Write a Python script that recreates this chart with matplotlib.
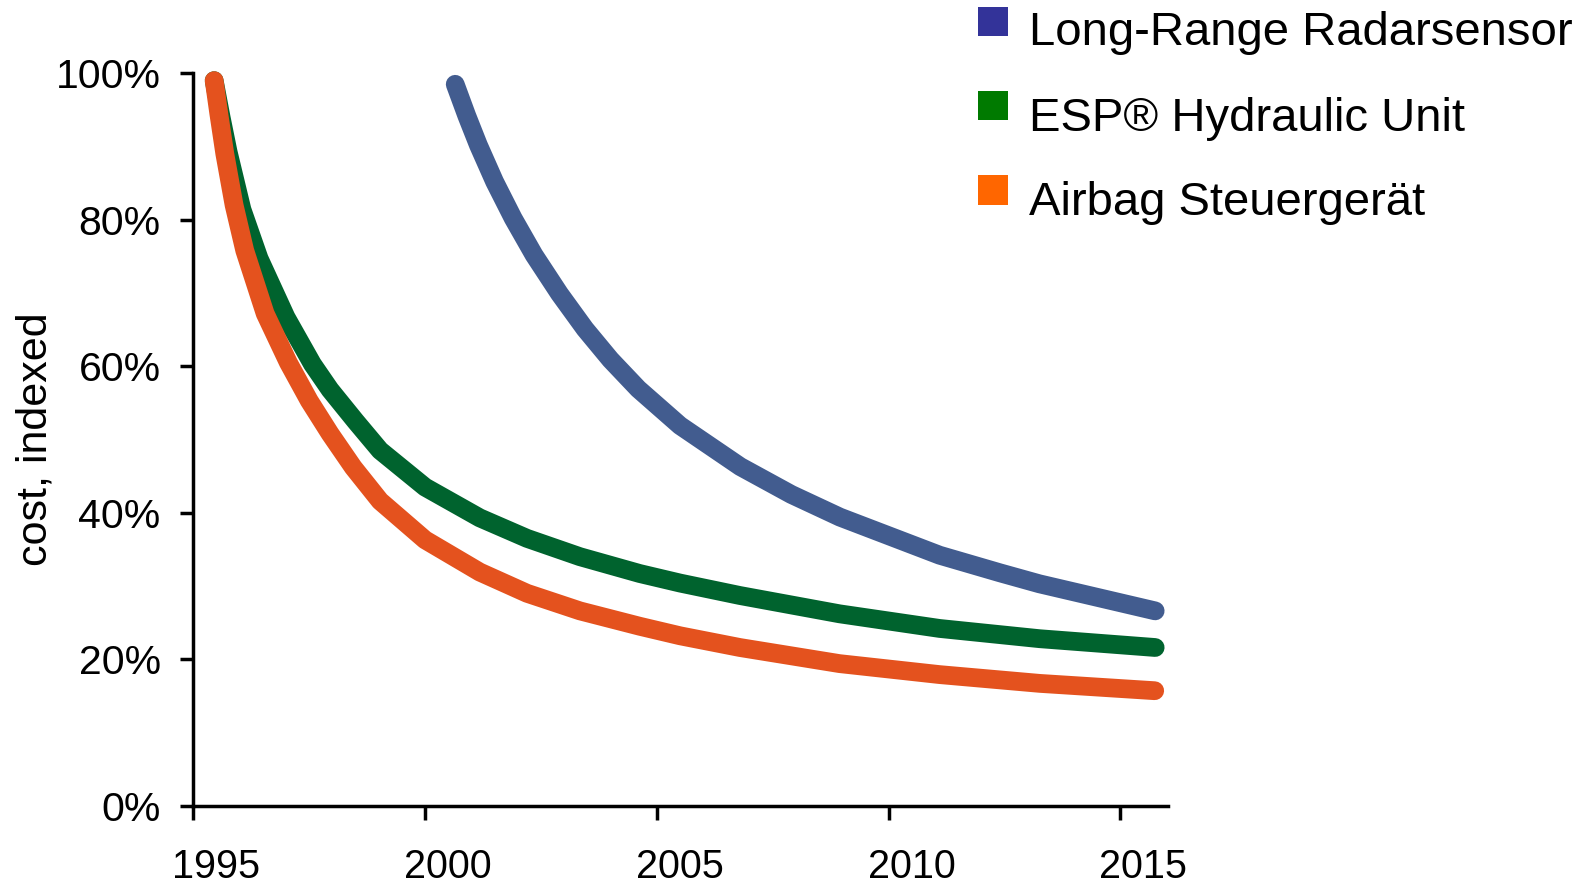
import matplotlib
matplotlib.use("Agg")
import matplotlib.pyplot as plt
import matplotlib.transforms as mtransforms
from matplotlib.patches import Rectangle
from matplotlib.ticker import FuncFormatter

# series (year, cost index in %)
radar_years = [2000.65, 2000.9, 2001.15, 2001.5, 2001.9, 2002.35, 2002.9, 2003.45,
               2004.0, 2004.6, 2005.5, 2006.8, 2007.9, 2008.95, 2011.1, 2012.4,
               2013.25, 2015.75]
radar_vals = [98.5, 94.2, 90.2, 85.2, 80.2, 75.2, 69.9, 65.1,
              60.9, 56.9, 51.9, 46.3, 42.5, 39.4, 34.2, 31.8,
              30.3, 26.6]

esp_years = [1995.45, 1995.6, 1995.75, 1996.05, 1996.42, 1997.0, 1997.57, 1997.95,
             1998.5, 1999.03, 2000.0, 2001.18, 2002.2, 2003.34, 2004.63, 2005.5,
             2006.79, 2008.94, 2011.1, 2013.26, 2015.75]
esp_vals = [99.0, 94.0, 89.3, 81.4, 74.7, 66.7, 60.3, 56.8,
            52.5, 48.5, 43.5, 39.3, 36.5, 34.0, 31.7, 30.4,
            28.7, 26.2, 24.2, 22.8, 21.6]

airbag_years = [1995.45, 1995.55, 1995.68, 1995.88, 1996.11, 1996.55, 1997.05, 1997.5,
                1997.95, 1998.45, 1999.03, 2000.0, 2001.18, 2002.2, 2003.34, 2004.63,
                2005.5, 2006.79, 2008.94, 2011.1, 2013.26, 2015.74]
airbag_vals = [99.0, 94.5, 89.0, 82.0, 75.8, 67.2, 60.5, 55.3,
               50.8, 46.2, 41.6, 36.3, 31.9, 29.0, 26.6, 24.5,
               23.2, 21.6, 19.4, 17.9, 16.7, 15.7]

labels = ["Long-Range Radarsensor", "ESP\u00ae Hydraulic Unit", "Airbag Steuerger\u00e4t"]
line_colors = ["#425C8F", "#00632E", "#E4521E"]
legend_colors = ["#333399", "#007A00", "#FF6600"]
x_ticks = [1995, 2000, 2005, 2010, 2015]
y_ticks = [0, 20, 40, 60, 80, 100]

plt.rcParams["font.family"] = ["Liberation Sans", "DejaVu Sans"]

W, H = 1593, 885
fig = plt.figure(figsize=(W / 100, H / 100), dpi=100)
ax = fig.add_axes([193.3 / W, 1 - 805.7 / H, (1167.7 - 193.3) / W, (805.7 - 73.3) / H])

series = [(radar_years, radar_vals), (esp_years, esp_vals), (airbag_years, airbag_vals)]
for (xs, ys), c in zip(series, line_colors):
    ax.plot(xs, ys, color=c, lw=13.5, solid_capstyle="round",
            solid_joinstyle="round", clip_on=False, zorder=3)

ax.set_xlim(1995, 2016.02)
ax.set_ylim(0, 100)
ax.set_xticks(x_ticks)
ax.set_yticks(y_ticks)
ax.yaxis.set_major_formatter(FuncFormatter(lambda v, p: f"{v:.0f}%"))

for side in ["top", "right"]:
    ax.spines[side].set_visible(False)
for side in ["left", "bottom"]:
    ax.spines[side].set_linewidth(2.5)

ax.tick_params(axis="y", direction="out", length=9.5, width=2.5, pad=14, labelsize=29.5)
ax.tick_params(axis="x", direction="out", length=10, width=2.5, pad=20.5, labelsize=28.5)

# year labels sit a bit to the right of their ticks
shift = mtransforms.ScaledTranslation(23 / 100, 0, fig.dpi_scale_trans)
for lab in ax.get_xticklabels():
    lab.set_transform(lab.get_transform() + shift)

ax.set_ylabel("cost, indexed", fontsize=31)
ax.yaxis.set_label_coords((56 - 193.3) / (1167.7 - 193.3), 0.5)

# legend drawn by hand: squares + text
sq_tops = [6.7, 90.7, 175.0]
baselines = [45.0, 131.0, 215.0]
for top, base, c, lab in zip(sq_tops, baselines, legend_colors, labels):
    fig.add_artist(Rectangle((978.3 / W, 1 - (top + 29.5) / H), 29.5 / W, 29.5 / H,
                             transform=fig.transFigure, color=c, lw=0))
    fig.text(1029.3 / W, 1 - base / H, lab, fontsize=34, ha="left", va="baseline")

fig.savefig("out.png", dpi=100)
